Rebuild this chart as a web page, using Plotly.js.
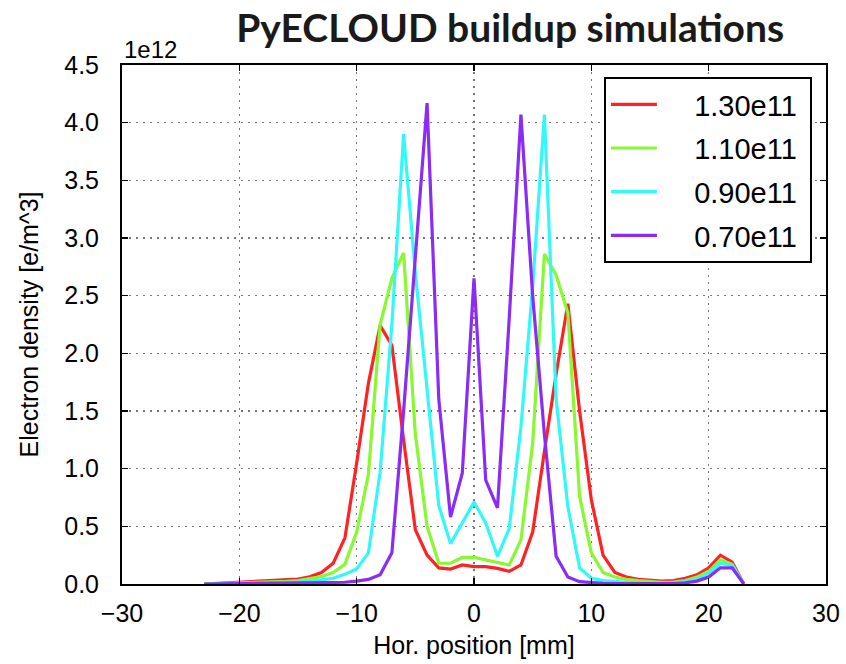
<!DOCTYPE html>
<html><head><meta charset="utf-8">
<script src="https://cdn.plot.ly/plotly-3.0.1.min.js"></script>
<style>body{margin:0;background:#fff}#chart{width:846px;height:664px}</style>
</head><body><div id="chart"></div>
<script>
// Horizontal position [mm]
const positions = [-23,-22,-21,-20,-19,-18,-17,-16,-15,-14,-13,-12,-11,-10,-9,-8,-7,-6,-5,-4,-3,-2,-1,0,1,2,3,4,5,6,7,8,9,10,11,12,13,14,15,16,17,18,19,20,21,22,23];
// Electron density [1e12 e/m^3]
const dens130 = [0,0.005,0.008,0.012,0.016,0.02,0.025,0.032,0.042,0.062,0.10,0.18,0.40,1.05,1.74,2.24,2.07,1.25,0.47,0.25,0.14,0.13,0.165,0.15,0.15,0.135,0.11,0.165,0.45,1.15,1.82,2.43,1.5,0.73,0.25,0.10,0.06,0.04,0.03,0.025,0.03,0.05,0.08,0.14,0.25,0.19,0];
const dens110 = [0,0.003,0.005,0.007,0.01,0.013,0.017,0.022,0.03,0.045,0.065,0.10,0.17,0.45,0.95,2.25,2.65,2.87,1.3,0.5,0.18,0.18,0.23,0.23,0.21,0.19,0.165,0.38,1.22,2.86,2.68,2.35,0.76,0.27,0.10,0.06,0.04,0.03,0.02,0.015,0.016,0.03,0.06,0.11,0.21,0.17,0];
const dens090 = [0,0.002,0.003,0.004,0.005,0.007,0.009,0.012,0.016,0.022,0.035,0.05,0.085,0.13,0.27,0.97,2.25,3.9,2.7,1.7,0.68,0.35,0.53,0.71,0.53,0.24,0.48,1.36,2.58,4.07,1.6,0.67,0.14,0.05,0.03,0.02,0.015,0.01,0.008,0.008,0.01,0.02,0.04,0.09,0.18,0.16,0];
const dens070 = [0,0.001,0.001,0.002,0.002,0.003,0.003,0.004,0.005,0.006,0.008,0.01,0.015,0.025,0.04,0.08,0.27,1.5,2.85,4.17,1.6,0.58,0.96,2.65,0.9,0.66,2.3,4.07,2.5,1.3,0.24,0.06,0.02,0.01,0.006,0.004,0.003,0.002,0.002,0.002,0.004,0.01,0.025,0.06,0.14,0.14,0];
const seriesNames = ['1.30e11','1.10e11','0.90e11','0.70e11'];
const seriesColors = ['#ff2222','#88f830','#33f8f8','#8a2cf5'];
const seriesData = [dens130, dens110, dens090, dens070];

const traces = seriesData.map((d, i) => ({
  x: positions, y: d, type: 'scatter', mode: 'lines',
  name: '\u00a0\u00a0\u00a0\u00a0' + seriesNames[i] + '\u00a0', legendgroup: 'g' + i,
  line: {color: seriesColors[i], width: 3.2}
}));

const fontFam = '"Liberation Sans", Arial, sans-serif';
const axisCommon = {
  showline: true, linecolor: '#000', linewidth: 2, mirror: 'ticks',
  ticks: 'inside', ticklen: 6, tickwidth: 1.5, tickcolor: '#000',
  showgrid: true, gridcolor: '#777', griddash: '2px,5px', gridwidth: 1.2,
  zeroline: false, tickfont: {family: fontFam, size: 25, color: '#000'}
};

const layout = {
  width: 846, height: 664,
  margin: {l: 122, r: 20, t: 65, b: 80},
  paper_bgcolor: '#fff', plot_bgcolor: '#fff',
  title: {text: '<b>PyECLOUD buildup simulations</b>', font: {family: 'Lato, "Open Sans", sans-serif', size: 39, color: '#1a1a1a'},
          x: 0.603, xanchor: 'center', y: 0.958, yanchor: 'middle'},
  xaxis: Object.assign({}, axisCommon, {range: [-30, 30], dtick: 10, tick0: 0, ticklabelstandoff: 6,
    title: {text: 'Hor. position [mm]', font: {family: fontFam, size: 25, color: '#000'}, standoff: 10}}),
  yaxis: Object.assign({}, axisCommon, {range: [0, 4.5], dtick: 0.5, tick0: 0, tickformat: '.1f', ticklabelstandoff: 16,
    title: {text: 'Electron density [e/m^3]', font: {family: fontFam, size: 25, color: '#000'}, standoff: 18}}),
  legend: {x: 0.98, xanchor: 'right', y: 0.977, yanchor: 'top', bgcolor: '#fff', bordercolor: '#000', borderwidth: 2,
           font: {family: fontFam, size: 29, color: '#000'}, tracegroupgap: 3, itemwidth: 46},
  annotations: [{text: '1e12', xref: 'paper', yref: 'paper', x: 0, y: 1, xanchor: 'left', yanchor: 'bottom',
                 showarrow: false, font: {family: fontFam, size: 24, color: '#000'}}],
  showlegend: true
};

Plotly.newPlot('chart', traces, layout, {displayModeBar: false, staticPlot: true});
</script>
</body></html>
